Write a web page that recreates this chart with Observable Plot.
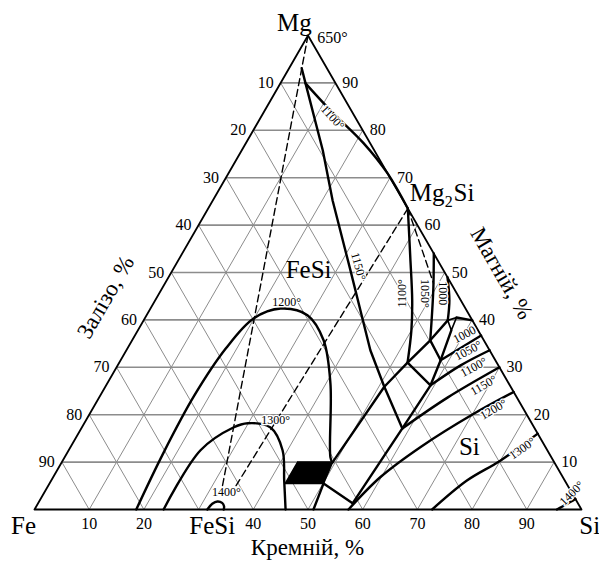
<!DOCTYPE html>
<html><head><meta charset="utf-8">
<script src="https://cdn.jsdelivr.net/npm/d3@7"></script>
<script src="https://cdn.jsdelivr.net/npm/@observablehq/plot@0.6"></script>
<style>body{margin:0;background:#fff}</style>
</head><body><div id="chart"></div>
<script>
// Ternary points are [Si %, Mg %]; Fe % = 100 - Si - Mg
const gridSteps = [10, 20, 30, 40, 50, 60, 70, 80, 90];
const bottomTicks = [10, 20, 40, 50, 60, 70, 80, 90];   // Кремній, %
const leftTicks = [10, 20, 30, 40, 50, 60, 70, 80, 90];   // Залізо, %
const rightTicks = [10, 20, 30, 40, 50, 60, 70, 80, 90];  // Магній, %

const triangle = [[0, 0], [100, 0], [0, 100], [0, 0]];

// dashed conodes
const dashMgFeSi = [[0, 100], [31.9, 4.9]];
const dashMg2SiFeSi = [[36.5, 63.5], [34.3, 4.2]];
const dashMg2SiUp = [[36.5, 63.5], [49.1, 47.7]];

// solid boundary lines
const line1150 = [[2.3, 93.1], [4.6, 89.9], [14.8, 75.8], [21.9, 65.2], [32.5, 50.5], [44.6, 33.6], [51.0, 25.9]];
const line1100Mg = [[4.6, 89.9], [12.0, 84.2], [21.5, 77.3], [29.1, 70.9], [36.5, 63.5]];
const valley = [[49.5, 9.9], [51.0, 25.9], [52.7, 31.0], [54.5, 35.7], [55.6, 39.9]];
const ridge = [[57.5, 1.3], [58.7, 17.1], [59.3, 26.2], [58.5, 31.5], [57.3, 37.8]];
const tie1150 = [[51.0, 25.9], [58.7, 17.1]];
const tie1100 = [[52.7, 31.0], [59.3, 26.2]];
const tie1050 = [[54.5, 35.7], [58.5, 31.5]];
const smallTri = [[55.6, 39.9], [56.9, 40.5], [57.3, 37.8], [55.6, 39.9]];

// isotherms, Mg2Si field
const iso1100Mg2Si = [[36.5, 63.5], [42.1, 53.2], [47.0, 44.1], [50.0, 37.8], [52.7, 31.0]];
const iso1050Mg2Si = [[46.0, 54.0], [49.8, 46.2], [54.5, 35.7]];
const iso1000Mg2Si = [[51.0, 49.0], [53.8, 44.1], [55.6, 39.9]];

// isotherms, Si field
const iso1000Si = [[56.9, 40.5], [60.1, 39.9]];
const iso1050Si = [[58.5, 31.5], [63.3, 36.7]];
const iso1100Si = [[59.3, 26.2], [62.7, 30.4], [66.4, 33.6]];
const iso1150Si = [[58.7, 17.1], [63.7, 23.6], [70.0, 30.0]];
const iso1200Si = [[57.4, 0], [59.8, 6.8], [64.0, 13.2], [70.2, 20.2], [75.2, 24.8]];
const iso1300Si = [[72.7, 0], [76.0, 6.1], [80.0, 10.3], [84.0, 16.0]];
const iso1400Si = [[95.5, 0], [96.7, 1.1], [97.8, 2.2]];

// isotherms, FeSi field
const iso1200FeSi = [[18.6, 0], [17.6, 12.0], [17.2, 24.0], [18.0, 34.0], [19.9, 40.3], [23.8, 42.4], [29.4, 41.0], [35.0, 35.7], [40.8, 26.6], [48.6, 11.0], [49.5, 9.9]];
const iso1300FeSi = [[23.6, 0], [24.1, 12.5], [27.7, 17.3], [29.9, 18.2], [34.5, 17.3], [39.1, 12.5], [42.6, 6.1], [45.9, 0]];
const iso1400FeSi = [[31.6, 0], [31.9, 1.2], [32.6, 1.7], [33.6, 1.4], [34.3, 0.7], [34.6, 0]];

const blackBlock = [[43.1, 10.0], [49.5, 10.0], [50.1, 5.5], [43.1, 5.5], [43.1, 10.0]];
const blockToBottom = [[50.1, 5.5], [51.0, 0]];
const blockToRidge = [[50.1, 5.5], [57.5, 1.3]];

// labels: position in plot space [horizontal %, Mg %]
const bigLabels = [
  {t: "Mg", x: 47.5, y: 102.7},
  {t: "Fe", x: -2.0, y: -3.4},
  {t: "FeSi", x: 32.5, y: -3.4},
  {t: "Si", x: 101.5, y: -3.4},
  {t: "FeSi", x: 50.1, y: 50.6},
  {t: "Si", x: 79.5, y: 13.1}
];
const axisTitles = [
  {t: "Кремній, %", x: 49.9, y: -8.0, r: 0},
  {t: "Залізо, %", x: 13.0, y: 44.8, r: -60},
  {t: "Магній, %", x: 85.4, y: 49.8, r: 60}
];
const mg2siParts = [
  {t: "Mg", x: 68.6, y: 66.7, s: 25},
  {t: "2", x: 75.0, y: 65.0, s: 16},
  {t: "Si", x: 76.6, y: 66.7, s: 25}
];
const meltLabel = [{t: "650°", x: 51.7, y: 99.4}];
const isoLabels = [
  {t: "1100°", x: 54.5, y: 82.7, r: 48},
  {t: "1150°", x: 59.2, y: 51.3, r: 75},
  {t: "1200°", x: 46.1, y: 43.7, r: 0},
  {t: "1300°", x: 44.1, y: 18.8, r: 0},
  {t: "1400°", x: 35.1, y: 3.6, r: 0},
  {t: "1100°", x: 67.3, y: 45.6, r: -90},
  {t: "1050°", x: 71.3, y: 45.6, r: 90},
  {t: "1000", x: 74.6, y: 45.6, r: 90},
  {t: "1000", x: 78.6, y: 36.9, r: -28},
  {t: "1050°", x: 79.3, y: 33.5, r: -28},
  {t: "1100°", x: 80.3, y: 30.0, r: -28},
  {t: "1150°", x: 82.1, y: 26.2, r: -30},
  {t: "1200°", x: 83.9, y: 21.1, r: -30},
  {t: "1300°", x: 89.2, y: 12.9, r: -35},
  {t: "1400°", x: 98.2, y: 3.4, r: -45}
];

// ----- helpers -----
const X = d => d[0] + d[1] / 2;
const Y = d => d[1];
const toXY = pts => pts.map(p => ({x: X(p), y: Y(p)}));

const gridMg = gridSteps.map(v => [[0, v], [100 - v, v]]);
const gridSi = gridSteps.map(v => [[v, 0], [v, 100 - v]]);
const gridFe = gridSteps.map(v => [[100 - v, 0], [0, 100 - v]]);
const seg = arr => arr.map(([a, b]) => ({x1: X(a), y1: Y(a), x2: X(b), y2: Y(b)}));

const bottomLab = bottomTicks.map(v => ({x: v, y: -3.0, t: String(v)}));
const leftLab = leftTicks.map(v => ({x: (100 - v) / 2, y: 100 - v, t: String(v)}));
const rightLab = rightTicks.map(v => ({x: 100 - v / 2, y: v, t: String(v)}));

const thick = {stroke: "black", strokeWidth: 2.4, strokeLinejoin: "round"};
const solid = (pts, curve = "linear") => Plot.line(toXY(pts), {x: "x", y: "y", curve, ...thick});
const dashed = pts => Plot.line(toXY(pts), {x: "x", y: "y", stroke: "black", strokeWidth: 1.4, strokeDasharray: "7,4"});

const font = "'Liberation Serif', 'Times New Roman', serif";

const chart = Plot.plot({
  width: 599,
  height: 562,
  margin: 0,
  x: {domain: [0, 100], range: [34, 581], axis: null},
  y: {domain: [0, 100], range: [509, 35], axis: null},
  style: {fontFamily: font, background: "white", color: "black"},
  marks: [
    Plot.link(seg(gridMg), {x1: "x1", y1: "y1", x2: "x2", y2: "y2", stroke: "#8c8c8c", strokeWidth: 1.6}),
    Plot.link(seg(gridSi), {x1: "x1", y1: "y1", x2: "x2", y2: "y2", stroke: "#8c8c8c", strokeWidth: 1}),
    Plot.link(seg(gridFe), {x1: "x1", y1: "y1", x2: "x2", y2: "y2", stroke: "#8c8c8c", strokeWidth: 1}),
    Plot.line(toXY(triangle), {x: "x", y: "y", stroke: "black", strokeWidth: 1.8}),
    dashed(dashMgFeSi), dashed(dashMg2SiFeSi), dashed(dashMg2SiUp),
    solid(line1150), solid(line1100Mg, "catmull-rom"),
    solid(valley), solid(ridge), solid(tie1150), solid(tie1100), solid(tie1050),
    Plot.line(toXY(smallTri), {x: "x", y: "y", stroke: "black", strokeWidth: 1.6}),
    solid(iso1100Mg2Si, "catmull-rom"), solid(iso1050Mg2Si, "catmull-rom"), solid(iso1000Mg2Si, "catmull-rom"),
    solid(iso1000Si), solid(iso1050Si), solid(iso1100Si, "catmull-rom"), solid(iso1150Si, "catmull-rom"),
    solid(iso1200Si, "catmull-rom"), solid(iso1300Si, "catmull-rom"), solid(iso1400Si, "catmull-rom"),
    solid(iso1200FeSi, "catmull-rom"), solid(iso1300FeSi, "catmull-rom"), solid(iso1400FeSi, "catmull-rom"),
    Plot.line(toXY(blackBlock), {x: "x", y: "y", fill: "black", stroke: "black", strokeWidth: 1.5}),
    solid(blockToBottom), solid(blockToRidge),
    Plot.text(bottomLab, {x: "x", y: "y", text: "t", fontSize: 16, fill: "black"}),
    Plot.text(leftLab, {x: "x", y: "y", text: "t", fontSize: 16, fill: "black", textAnchor: "end", dx: -7}),
    Plot.text(rightLab, {x: "x", y: "y", text: "t", fontSize: 16, fill: "black", textAnchor: "start", dx: 7}),
    Plot.text(bigLabels, {x: "x", y: "y", text: "t", fontSize: 25, fill: "black"}),
    Plot.text(axisTitles, {x: "x", y: "y", text: "t", rotate: "r", fontSize: 23, fill: "black"}),
    Plot.text(mg2siParts, {x: "x", y: "y", text: "t", fontSize: "s", fill: "black", textAnchor: "start"}),
    Plot.text(meltLabel, {x: "x", y: "y", text: "t", fontSize: 16, fill: "black", textAnchor: "start"}),
    Plot.text(isoLabels, {x: "x", y: "y", text: "t", rotate: "r", fontSize: 12, fill: "black", stroke: "white", strokeWidth: 2.5})
  ]
});
document.getElementById("chart").append(chart);
</script>
</body></html>
